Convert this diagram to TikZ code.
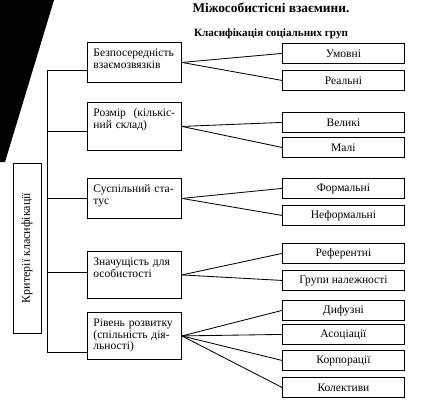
\documentclass[tikz,border=0pt]{standalone}
\usepackage{fontspec}
\setmainfont{Liberation Serif}
\begin{document}
\begin{tikzpicture}[x=0.025cm, y=-0.025cm, line width=0.6pt,
  every node/.style={font=\fontsize{8.2}{8.3}\selectfont},
  crit/.style={draw, anchor=north west, text width=2.05cm, align=left, inner xsep=0.15cm, inner ysep=0.15cm, text height=0.2cm},
  leaf/.style={draw, anchor=north west, minimum width=3.05cm, minimum height=0.5cm, inner sep=0pt}]
  \useasboundingbox (0,0) rectangle (421,401);
  \fill (0,0) -- (54,0) -- (5,162) -- (0,162) -- cycle;
  \node[font=\bfseries\fontsize{9.5}{11}\selectfont] (title) at (271,8) {Міжособистісні взаємини.};
  \node[font=\bfseries\fontsize{7.9}{9}\selectfont] (subtitle) at (271,34) {Класифікація соціальних груп};
  \node[draw, rotate=90, minimum width=4.25cm, minimum height=0.7cm, inner sep=0pt, font=\fontsize{8.5}{9}\selectfont] (criteria) at (27,248) {Критерії класифікації};
  \node[crit, text depth=0.5cm] (direct) at (87,42) {Безпосередність\\взаємозвязків};
  \node[crit, text depth=0.7cm] (size) at (87,102) {Розмір\ \ (кількіс-\\ний склад)};
  \node[crit, text depth=0.5cm] (status) at (87,178) {Суспільний ста-\\тус};
  \node[crit, text depth=0.675cm] (value) at (87,251) {Значущість для\\особистості};
  \node[crit, text depth=0.675cm] (level) at (87,312) {Рівень розвитку\\(спільність дія-\\льності)};
  \coordinate (t1) at (47,70);
  \coordinate (t2) at (47,131);
  \coordinate (t3) at (47,198);
  \coordinate (t4) at (47,272);
  \coordinate (t5) at (47,352);
  \draw (direct.west |- t1) -- (t1) -- (t5) -- (level.west |- t5);
  \foreach \t/\b in {t2/size, t3/status, t4/value}
    \draw (\t) -- (\b.west |- \t);
  \foreach \n/\y/\txt in {umov/43/Умовні, real/70/Реальні, big/112/Великі, small/137/Малі,
      formal/178/Формальні, informal/205/Неформальні, refer/243/Референтні, member/270/Групи належності,
      diffuse/300/Дифузні, assoc/324/Асоціації, corp/350/Корпорації, coll/377/Колективи}
    \node[leaf] (\n) at (282,\y) {\txt};
  \foreach \a/\b in {direct/umov, direct/real, size/big, size/small, status/formal, status/informal,
      value/refer, value/member, level/diffuse, level/assoc, level/corp, level/coll}
    \draw (\a.east) -- (\b.west);
\end{tikzpicture}
\end{document}
